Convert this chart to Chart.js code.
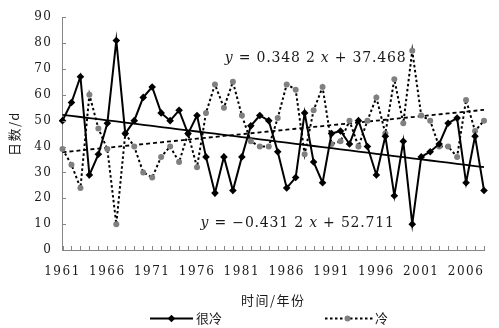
<!DOCTYPE html>
<html><head><meta charset="utf-8">
<script src="https://cdn.jsdelivr.net/npm/chart.js@4/dist/chart.umd.min.js"></script>
<style>html,body{margin:0;padding:0;background:#fff;overflow:hidden}</style>
</head><body>
<canvas id="c" width="499" height="328"></canvas>
<script>
const years = ['1961','1962','1963','1964','1965','1966','1967','1968','1969','1970',
  '1971','1972','1973','1974','1975','1976','1977','1978','1979','1980',
  '1981','1982','1983','1984','1985','1986','1987','1988','1989','1990',
  '1991','1992','1993','1994','1995','1996','1997','1998','1999','2000',
  '2001','2002','2003','2004','2005','2006','2007','2008'];
const xTickLabels = ['1961','1966','1971','1976','1981','1986','1991','1996','2001','2006'];
const yTickValues = [0,10,20,30,40,50,60,70,80,90];
const veryCold = [50,57,67,29,37,49,81,45,50,59,
  63,53,50,54,45,52,36,22,36,23,
  36,48,52,50,38,24,28,53,34,26,
  45,46,41,50,40,29,44,21,42,10,
  36,38,41,49,51,26,44,23];
const cold = [39,33,24,60,47,39,10,45,40,30,
  28,36,40,34,45,32,53,64,55,65,
  52,42,40,40,51,64,62,37,54,63,
  41,42,50,40,50,59,45,66,49,77,
  52,50,40,40,36,58,46,50];
// linear trend coefficients as printed on the chart: [slope, intercept], x = 1..n
const veryColdTrendCoef = [-0.4312, 52.711];
const coldTrendCoef = [0.3482, 37.468];
const seriesNames = ['很冷','冷'];
const xTitle = '时间/年份';
const yTitle = '日数/d';
const eqUpper = ['y',' = 0.348 2 ','x',' + 37.468'];
const eqLower = ['y',' = −0.431 2 ','x',' + 52.711'];

const veryColdTrend = years.map((_, i) => veryColdTrendCoef[0] * (i + 1) + veryColdTrendCoef[1]);
const coldTrend = years.map((_, i) => coldTrendCoef[0] * (i + 1) + coldTrendCoef[1]);

const AXIS = '#868686';
const TXT = '#1a1a1a';
const NUMFONT = 'DejaVu Serif';
const CJK = '"Noto Sans CJK SC", "Noto Sans CJK JP", sans-serif';

const decor = {
  id: 'decor',
  beforeDraw(chart) {
    try { chart.ctx.letterSpacing = '1.5px'; } catch (e) {}
  },
  afterDraw(chart) {
    const ctx = chart.ctx;
    const {left, bottom} = chart.chartArea;
    const xs = chart.scales.x, ys = chart.scales.y;
    ctx.save();
    try { ctx.letterSpacing = '0px'; } catch (e) {}
    ctx.strokeStyle = AXIS; ctx.lineWidth = 1;
    ctx.beginPath();
    yTickValues.forEach(v => {
      const py = Math.round(ys.getPixelForValue(v)) + 0.5;
      ctx.moveTo(left, py); ctx.lineTo(left + 3.5, py);
    });
    years.forEach((_, i) => {
      const px = Math.round(xs.getPixelForValue(i)) + 0.5;
      ctx.moveTo(px, bottom); ctx.lineTo(px, bottom - 4);
    });
    ctx.stroke();

    // trend equations
    function drawEq(parts, idx, val) {
      let x = xs.getPixelForValue(idx);
      const y = ys.getPixelForValue(val);
      ctx.fillStyle = TXT;
      ctx.textBaseline = 'middle'; ctx.textAlign = 'left';
      try { ctx.letterSpacing = '0.8px'; } catch (e) {}
      parts.forEach((p, k) => {
        ctx.font = (k % 2 === 0 ? 'italic ' : '') + '14px "' + NUMFONT + '"';
        ctx.fillText(p, x, y);
        x += ctx.measureText(p).width;
      });
    }
    drawEq(eqUpper, 18.1, 74.2);
    drawEq(eqLower, 15.4, 10.3);

    // legend
    try { ctx.letterSpacing = '0px'; } catch (e) {}
    const ly = 318.5;
    ctx.strokeStyle = '#000'; ctx.lineWidth = 2;
    ctx.beginPath(); ctx.moveTo(150, ly); ctx.lineTo(193, ly); ctx.stroke();
    ctx.fillStyle = '#000';
    ctx.beginPath();
    ctx.moveTo(171.5, ly - 3.8); ctx.lineTo(175.3, ly); ctx.lineTo(171.5, ly + 3.8); ctx.lineTo(167.7, ly);
    ctx.closePath(); ctx.fill();
    ctx.setLineDash([2.5, 2.5]);
    ctx.beginPath(); ctx.moveTo(325, ly); ctx.lineTo(373, ly); ctx.stroke();
    ctx.setLineDash([]);
    ctx.fillStyle = '#808080';
    ctx.beginPath(); ctx.arc(347.5, ly, 3, 0, Math.PI * 2); ctx.fill();
    ctx.fillStyle = TXT;
    ctx.font = '13px ' + CJK;
    ctx.textBaseline = 'middle'; ctx.textAlign = 'left';
    ctx.fillText(seriesNames[0], 196, ly);
    ctx.fillText(seriesNames[1], 375, ly);
    ctx.restore();
  }
};

new Chart(document.getElementById('c'), {
  type: 'line',
  data: {
    labels: years,
    datasets: [
      { label: seriesNames[0], data: veryCold, borderColor: '#000', borderWidth: 2,
        pointStyle: 'rectRot', pointRadius: 3.8, pointBackgroundColor: '#000', pointBorderWidth: 0,
        tension: 0, order: 1 },
      { label: seriesNames[1], data: cold, borderColor: '#000', borderWidth: 2, borderDash: [2.5, 2.5],
        pointStyle: 'circle', pointRadius: 3, pointBackgroundColor: '#808080', pointBorderWidth: 0,
        tension: 0, order: 2 },
      { label: 'trend1', data: veryColdTrend, borderColor: '#000', borderWidth: 1.8,
        pointRadius: 0, tension: 0, order: 3 },
      { label: 'trend2', data: coldTrend, borderColor: '#000', borderWidth: 1.8, borderDash: [4, 3],
        pointRadius: 0, tension: 0, order: 4 }
    ]
  },
  options: {
    responsive: false, animation: false, devicePixelRatio: 1,
    layout: { padding: { left: 0, right: 1.3, top: 12, bottom: 0 } },
    plugins: { legend: { display: false }, tooltip: { enabled: false } },
    scales: {
      x: {
        type: 'category', offset: false,
        grid: { display: false, drawTicks: false },
        border: { display: true, color: AXIS, width: 1 },
        ticks: { autoSkip: false, maxRotation: 0, minRotation: 0, padding: 15, color: TXT,
          font: { family: NUMFONT, size: 12 },
          callback: function(v, i) { const l = years[i]; return xTickLabels.includes(l) ? l : ''; } },
        title: { display: true, text: xTitle, color: TXT, font: { family: CJK, size: 13 },
          padding: { top: 0, bottom: 20 } },
        afterFit: s => { s.height = 78; }
      },
      y: {
        min: 0, max: 90,
        grid: { display: false, drawTicks: false },
        border: { display: true, color: AXIS, width: 1 },
        ticks: { stepSize: 10, padding: 10, color: TXT, font: { family: NUMFONT, size: 12 } },
        title: { display: true, text: yTitle, color: TXT, font: { family: CJK, size: 13 },
          padding: { top: 6, bottom: 0 } },
        afterFit: s => { s.width = 62.5; }
      }
    }
  },
  plugins: [decor]
});
</script>
</body></html>
